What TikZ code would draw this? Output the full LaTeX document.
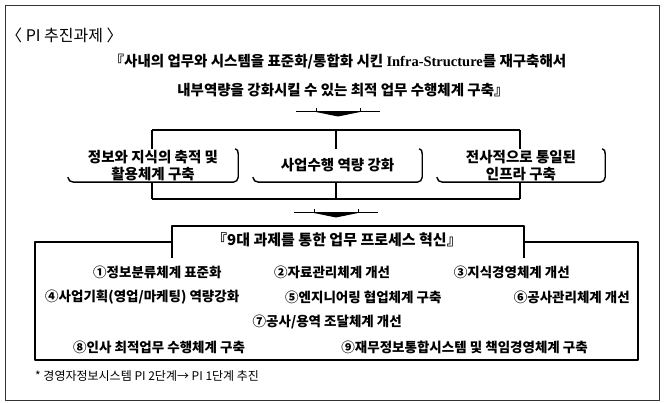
\documentclass[tikz,border=0pt]{standalone}
\usepackage{fontspec}
\setmainfont{Noto Sans CJK KR}
\newfontfamily\latserif{Liberation Serif}
\begin{document}
\begin{tikzpicture}[x=1pt,y=-1pt,line join=round]
\tikzset{
  frame/.style={draw=black!80,line width=0.8pt},
  heavy/.style={draw=black,line width=1.4pt},
  lead/.style={font=\fontsize{14.5}{16}\selectfont\bfseries,inner sep=0pt},
  boxtxt/.style={font=\fontsize{14.5}{17}\selectfont\bfseries,align=center,inner sep=0pt,
    minimum height=33pt},
  item/.style={font=\fontsize{13.5}{15}\selectfont\bfseries,inner sep=0pt},
  downmark/.pic={
    \draw[line width=1pt] (-42,0) -- (42,0);
    \fill (-22,0) -- (0,4.5) -- (22,0) -- cycle;
    \draw[line width=0.8pt] (-22,0) -- (-22,-4) (22,0) -- (22,-4);
  }
}
\newcommand\scrollbox[1]{%
  \draw[heavy] ([yshift=5pt]#1.south west) to[out=-90,in=180] ([xshift=6pt]#1.south west)
    -- ([xshift=-5pt]#1.south east) to[out=0,in=-90] ([yshift=5pt]#1.south east)
    -- ([yshift=-5pt]#1.north east) to[out=90,in=0] ([xshift=-3pt]#1.north east);}
\useasboundingbox (0,0) rectangle (667,403);
\draw[frame] (5,5) rectangle (659,400);

\node[anchor=west,font=\fontsize{16}{18}\selectfont,inner sep=0pt] (title) at (6,35) {〈 PI 추진과제 〉};
\node[lead] (l1) at (338,62) {『사내의 업무와 시스템을 표준화/통합화 시킨 {\latserif Infra-Structure}를 재구축해서};
\node[lead] (l2) at (343,90) {내부역량을 강화시킬 수 있는 최적 업무 수행체계 구축』};

\pic at (338,112) {downmark};

\node[boxtxt,minimum width=170pt] (b1) at (153,165.5) {정보와 지식의 축적 및\\활용체계 구축};
\node[boxtxt,minimum width=169pt] (b2) at (337.5,165.5) {사업수행 역량 강화};
\node[boxtxt,minimum width=168pt] (b3) at (521,165.5) {전사적으로 통일된\\인프라 구축};
\scrollbox{b1}\scrollbox{b2}\scrollbox{b3}

\coordinate (t1) at (152,130);
\coordinate (t2) at (336,130);
\coordinate (t3) at (520,130);
\coordinate (u1) at (152,199);
\coordinate (u2) at (336,199);
\coordinate (u3) at (520,199);
\draw[heavy] (t1) -- (t3);
\draw[heavy] (t1) -- (t1 |- b1.north);
\draw[heavy] (t2) -- (t2 |- b2.north);
\draw[heavy] (t3) -- (t3 |- b3.north);
\draw[heavy] (u1) -- (u3);
\draw[heavy] (u1) -- (u1 |- b1.south);
\draw[heavy] (u2) -- (u2 |- b2.south);
\draw[heavy] (u3) -- (u3 |- b3.south);

\pic at (336,213) {downmark};

\draw[heavy] (172,258) -- (172,226) -- (524,226) -- (524,258);
\draw[heavy] (172,242) -- (35,242) -- (35,360) -- (638,360) -- (638,242) -- (524,242);
\node[lead,font=\fontsize{15}{16}\selectfont\bfseries] (nine) at (337,240) {『9대 과제를 통한 업무 프로세스 혁신』};

\node[item,anchor=west] (i1) at (93,272) {①정보분류체계 표준화};
\node[item,anchor=west] (i2) at (274,272) {②자료관리체계 개선};
\node[item,anchor=east] (i3) at (570,272) {③지식경영체계 개선};
\node[item,anchor=west] (i4) at (45,297) {④사업기획(영업/마케팅) 역량강화};
\node[item,anchor=west] (i5) at (285,297) {⑤엔지니어링 협업체계 구축};
\node[item,anchor=east] (i6) at (630,297) {⑥공사관리체계 개선};
\node[item,anchor=east] (i7) at (402,322) {⑦공사/용역 조달체계 개선};
\node[item,anchor=west] (i8) at (73,347) {⑧인사 최적업무 수행체계 구축};
\node[item,anchor=east] (i9) at (588,347) {⑨재무정보통합시스템 및 책임경영체계 구축};

\node[anchor=west,font=\fontsize{12}{14}\selectfont,inner sep=0pt] (note) at (35,376) {* 경영자정보시스템 PI 2단계→ PI 1단계 추진};
\end{tikzpicture}
\end{document}
